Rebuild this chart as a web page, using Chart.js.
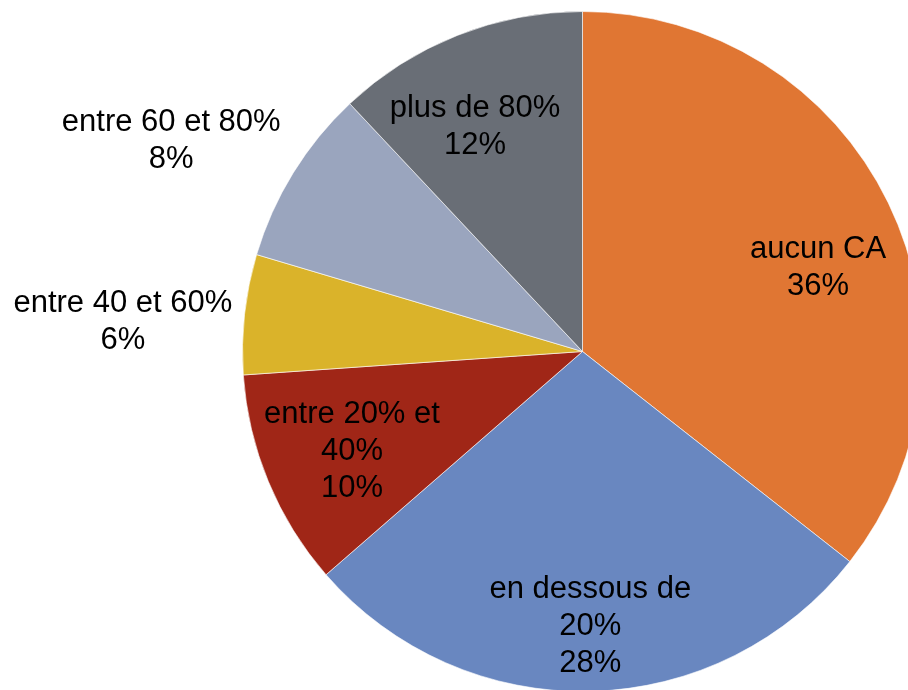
<!DOCTYPE html>
<html>
<head>
<meta charset="utf-8">
<script src="https://cdn.jsdelivr.net/npm/chart.js@4"></script>
<style>
  html, body { margin: 0; padding: 0; background: #fff; overflow: hidden; }
  #wrap { width: 908px; height: 690px; overflow: hidden; position: relative; }
  #chart { position: absolute; left: 0; top: 0; }
</style>
</head>
<body>
<div id="wrap"><canvas id="chart" width="1000" height="720"></canvas></div>
<script>
'use strict';

// ── Data ────────────────────────────────────────────────────
const categories = ['aucun CA', 'en dessous de 20%', 'entre 20% et 40%', 'entre 40 et 60%', 'entre 60 et 80%', 'plus de 80%'];
const shares     = [35.6, 28.0, 10.3, 5.7, 8.4, 12.0];
const colors     = ['#E07633', '#6987C0', '#A02617', '#DAB32A', '#9AA5BE', '#696E76'];

// label placement: turn (deg, from slice middle) and distance (× radius)
const labelTurn = [6.0, -0.2, -0.6, -2.4, -4.4, -3.8];
const labelDist = [0.737, 0.802, 0.737, 1.355, 1.361, 0.737];

const FONT = '31px "Liberation Sans", Arial, sans-serif';
const LINE_H = 37;
const WRAP_W = 230;
const TEXT_DY = 2;

function wrapText(ctx, text, maxW) {
  const words = text.split(' ');
  const lines = [];
  let cur = '';
  words.forEach(w => {
    const test = cur ? cur + ' ' + w : w;
    if (cur && ctx.measureText(test).width > maxW) {
      lines.push(cur);
      cur = w;
    } else {
      cur = test;
    }
  });
  if (cur) lines.push(cur);
  return lines;
}

const sliceLabels = {
  id: 'sliceLabels',
  afterDatasetsDraw(chart) {
    const { ctx } = chart;
    const meta = chart.getDatasetMeta(0);
    const total = shares.reduce((a, b) => a + b, 0);
    ctx.save();
    ctx.font = FONT;
    ctx.fillStyle = '#000';
    ctx.textAlign = 'center';
    ctx.textBaseline = 'middle';
    meta.data.forEach((arc, i) => {
      const p = arc.getProps(['x', 'y', 'startAngle', 'endAngle', 'outerRadius'], true);
      const mid = (p.startAngle + p.endAngle) / 2 + labelTurn[i] * Math.PI / 180;
      const r = p.outerRadius * labelDist[i];
      const cx = p.x + Math.cos(mid) * r;
      const cy = p.y + Math.sin(mid) * r + TEXT_DY;
      const lines = wrapText(ctx, categories[i], WRAP_W);
      lines.push(Math.round(shares[i] / total * 100) + '%');
      const y0 = cy - (lines.length - 1) * LINE_H / 2;
      lines.forEach((ln, k) => ctx.fillText(ln, cx, y0 + k * LINE_H));
    });
    ctx.restore();
  }
};

new Chart(document.getElementById('chart').getContext('2d'), {
  type: 'pie',
  data: {
    labels: categories,
    datasets: [{
      data: shares,
      backgroundColor: colors,
      borderColor: 'rgba(255,255,255,0.6)',
      borderWidth: 1
    }]
  },
  options: {
    responsive: false,
    animation: false,
    radius: 340,
    layout: { padding: { left: 242, top: 11, right: 77, bottom: 28 } },
    plugins: {
      legend: { display: false },
      tooltip: { enabled: false }
    }
  },
  plugins: [sliceLabels]
});
</script>
</body>
</html>
